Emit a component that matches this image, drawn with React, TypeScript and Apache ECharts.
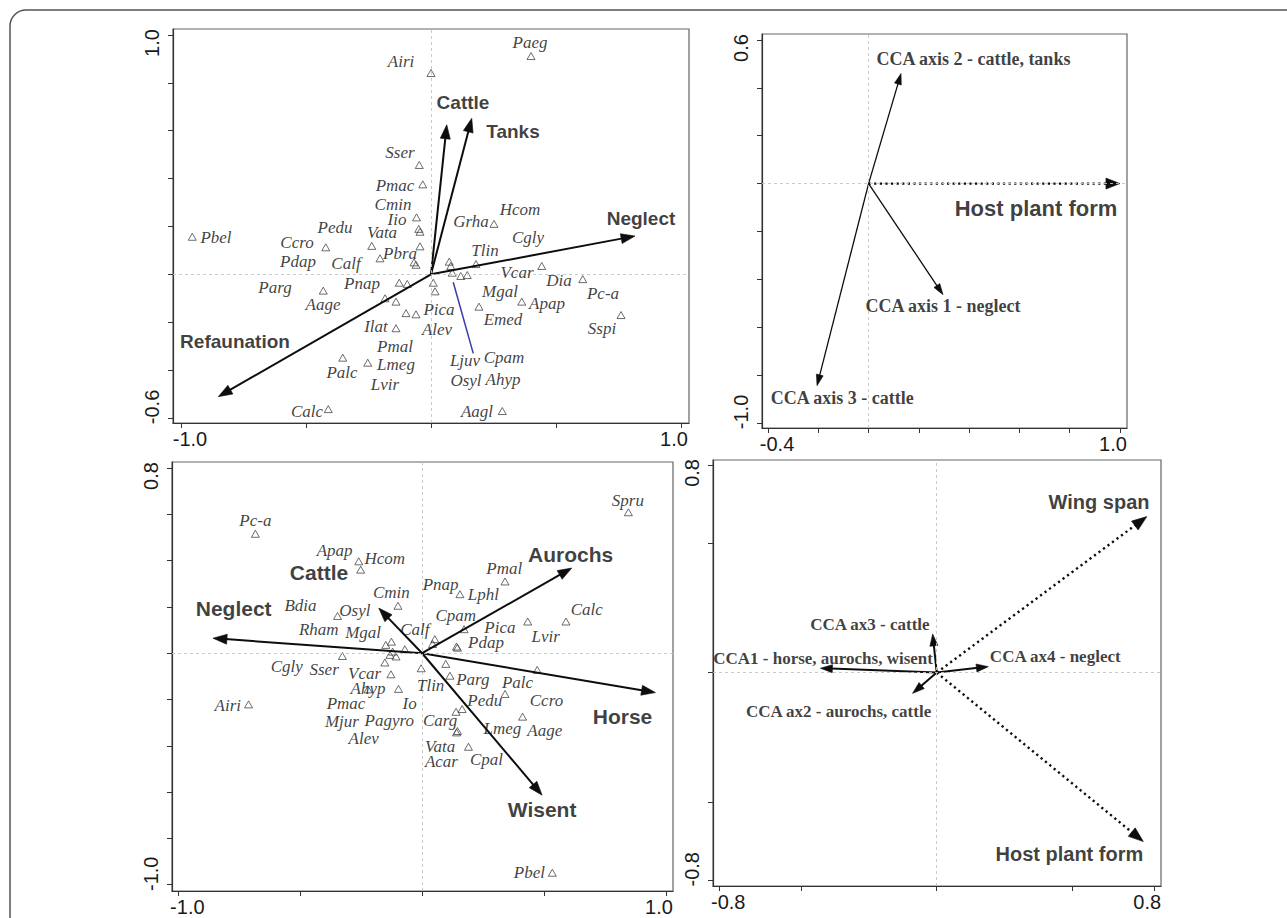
import React, { useEffect, useRef } from 'react';
import * as echarts from 'echarts';

type P = [number, number];
type L = [string, number, number];
type V = [number, number, number]; // x, y, dotted(1) / solid(0)

// ---------------- Panel 1 (top-left) ----------------
const p1Points: P[] = [
  [0.0, 0.841], [0.4, 0.912], [-0.047, 0.457], [-0.033, 0.376], [-0.058, 0.238],
  [-0.049, 0.19], [-0.044, 0.178], [-0.044, 0.117], [-0.068, 0.05], [-0.06, 0.04],
  [0.252, 0.211], [-0.955, 0.157], [-0.421, 0.113], [-0.237, 0.119], [-0.204, 0.067],
  [-0.431, -0.068], [-0.127, -0.035], [-0.095, -0.04], [-0.184, -0.1], [-0.14, -0.114],
  [-0.1, -0.162], [-0.06, -0.167], [-0.14, -0.225], [-0.353, -0.348], [-0.253, -0.369],
  [-0.411, -0.563], [0.009, -0.035], [0.016, -0.071], [0.073, 0.053], [0.079, 0.035],
  [0.085, 0.007], [0.119, -0.007], [0.145, -0.003], [0.18, 0.043], [0.443, 0.035],
  [0.607, -0.02], [0.76, -0.17], [0.192, -0.135], [0.363, -0.114], [0.285, -0.571],
];
const p1Species: L[] = [
  ['Airi', -0.12, 0.891], ['Paeg', 0.396, 0.967], ['Sser', -0.124, 0.507], ['Pmac', -0.144, 0.371],
  ['Cmin', -0.152, 0.29], ['Iio', -0.136, 0.231], ['Pedu', -0.384, 0.194], ['Vata', -0.196, 0.173],
  ['Pbel', -0.86, 0.154], ['Ccro', -0.536, 0.135], ['Pdap', -0.532, 0.052], ['Calf', -0.34, 0.046],
  ['Pbra', -0.124, 0.089], ['Hcom', 0.356, 0.269], ['Grha', 0.16, 0.219], ['Cgly', 0.388, 0.154],
  ['Tlin', 0.216, 0.1], ['Vcar', 0.344, 0.008], ['Dia', 0.512, -0.025], ['Pc-a', 0.688, -0.082],
  ['Sspi', 0.684, -0.228], ['Parg', -0.624, -0.053], ['Aage', -0.432, -0.128], ['Pnap', -0.276, -0.04],
  ['Pica', 0.032, -0.145], ['Alev', 0.024, -0.232], ['Ilat', -0.22, -0.218], ['Pmal', -0.144, -0.301],
  ['Lmeg', -0.14, -0.378], ['Palc', -0.356, -0.412], ['Lvir', -0.184, -0.462], ['Calc', -0.496, -0.571],
  ['Mgal', 0.276, -0.071], ['Apap', 0.464, -0.122], ['Emed', 0.288, -0.19], ['Ljuv', 0.136, -0.358],
  ['Cpam', 0.292, -0.347], ['Osyl', 0.14, -0.445], ['Ahyp', 0.288, -0.441], ['Aagl', 0.184, -0.573],
];
const p1Vectors: V[] = [[0.063, 0.625, 0], [0.163, 0.652, 0], [0.816, 0.16, 0], [-0.851, -0.511, 0]];
const p1VectorLabels: L[] = [
  ['Cattle', 0.128, 0.716], ['Tanks', 0.328, 0.597], ['Neglect', 0.84, 0.232], ['Refaunation', -0.784, -0.28],
];
const p1Link: P[] = [[0.089, -0.033], [0.169, -0.33]];
const p1XTicks = [-1, -0.5, 0, 0.5, 1];
const p1YTicks = [-0.6, -0.4, -0.2, 0, 0.2, 0.4, 0.6, 0.8, 1.0];
const p1XLabels = [-1, 1];
const p1YLabels = [-0.6, 1.0];

// ---------------- Panel 2 (top-right) ----------------
const p2Vectors: V[] = [[0.129, 0.46, 0], [0.296, -0.464, 0], [-0.205, -0.844, 0], [1.0, 0.0, 1]];
const p2AxisLabels: L[] = [
  ['CCA axis 2 - cattle, tanks', 0.417, 0.52],
  ['CCA axis 1 - neglect', 0.296, -0.511],
  ['CCA axis 3 - cattle', -0.105, -0.896],
];
const p2TraitLabels: L[] = [['Host plant form', 0.666, -0.102]];
const p2XTicks = [-0.4, -0.2, 0, 0.2, 0.4, 0.6, 0.8, 1.0];
const p2YTicks = [-1.0, -0.8, -0.6, -0.4, -0.2, 0, 0.2, 0.4, 0.6];
const p2XLabels = [-0.4, 1.0];
const p2YLabels = [-1.0, 0.6];

// ---------------- Panel 3 (bottom-left) ----------------
const p3Points: P[] = [
  [-0.684, 0.516], [-0.26, 0.397], [-0.252, 0.361], [-0.099, 0.205], [-0.347, 0.161],
  [-0.149, 0.036], [-0.126, 0.05], [-0.071, 0.017], [-0.327, -0.012], [-0.132, -0.007],
  [-0.107, -0.014], [-0.121, 0.007], [-0.153, -0.04], [0.052, 0.061], [0.043, 0.04],
  [0.846, 0.609], [0.34, 0.31], [0.155, 0.255], [0.59, 0.137], [0.433, 0.137],
  [0.172, 0.104], [0.141, 0.029], [0.145, 0.024], [-0.128, -0.091], [-0.097, -0.154],
  [-0.004, -0.065], [0.097, -0.046], [0.114, -0.097], [0.472, -0.072], [0.34, -0.176],
  [0.164, -0.241], [0.139, -0.253], [0.141, -0.342], [0.145, -0.336], [0.19, -0.404],
  [0.412, -0.274], [-0.712, -0.221], [0.534, -0.948], [-0.222, -0.156],
];
const p3Species: L[] = [
  ['Pc-a', -0.684, 0.573], ['Apap', -0.359, 0.443], ['Hcom', -0.153, 0.411], ['Cmin', -0.126, 0.264],
  ['Bdia', -0.499, 0.205], ['Osyl', -0.276, 0.184], ['Rham', -0.424, 0.101], ['Mgal', -0.242, 0.089],
  ['Calf', -0.03, 0.101], ['Spru', 0.844, 0.659], ['Pmal', 0.337, 0.364], ['Pnap', 0.076, 0.296],
  ['Lphl', 0.251, 0.252], ['Calc', 0.675, 0.187], ['Lvir', 0.507, 0.072], ['Cpam', 0.138, 0.161],
  ['Pica', 0.319, 0.113], ['Pdap', 0.262, 0.048], ['Cgly', -0.555, -0.058], ['Sser', -0.402, -0.072],
  ['Vcar', -0.236, -0.087], ['Ahyp', -0.222, -0.152], ['Tlin', 0.035, -0.141], ['Parg', 0.208, -0.113],
  ['Palc', 0.391, -0.127], ['Airi', -0.797, -0.224], ['Pmac', -0.312, -0.216], ['Io', -0.051, -0.216],
  ['Pedu', 0.257, -0.206], ['Ccro', 0.51, -0.206], ['Mjur', -0.329, -0.296], ['Pagyro', -0.135, -0.289],
  ['Carg', 0.074, -0.289], ['Lmeg', 0.329, -0.325], ['Aage', 0.503, -0.332], ['Alev', -0.24, -0.368],
  ['Vata', 0.074, -0.401], ['Acar', 0.079, -0.469], ['Cpal', 0.264, -0.459], ['Pbel', 0.44, -0.949],
];
const p3Vectors: V[] = [
  [-0.858, 0.065, 0], [-0.178, 0.195, 0], [0.614, 0.368, 0], [0.957, -0.17, 0], [0.492, -0.613, 0],
];
const p3VectorLabels: L[] = [
  ['Neglect', -0.773, 0.195], ['Cattle', -0.423, 0.349], ['Aurochs', 0.609, 0.426],
  ['Horse', 0.822, -0.274], ['Wisent', 0.492, -0.675],
];
const p3XTicks = [-1, -0.5, 0, 0.5, 1];
const p3YTicks = [-1.0, -0.8, -0.6, -0.4, -0.2, 0, 0.2, 0.4, 0.6, 0.8];
const p3XLabels = [-1, 1];
const p3YLabels = [-1.0, 0.8];

// ---------------- Panel 4 (bottom-right) ----------------
const p4Vectors: V[] = [
  [0.773, 0.601, 1], [0.76, -0.651, 1], [-0.428, 0.017, 0], [-0.015, 0.149, 0], [0.19, 0.023, 0], [-0.089, -0.08, 0],
];
const p4AxisLabels: L[] = [
  ['CCA ax3 - cattle', -0.246, 0.187],
  ['CCA1 - horse, aurochs, wisent', -0.418, 0.056],
  ['CCA ax4 - neglect', 0.436, 0.062],
  ['CCA ax2 - aurochs, cattle', -0.361, -0.15],
];
const p4TraitLabels: L[] = [['Wing span', 0.597, 0.659], ['Host plant form', 0.488, -0.7]];
const p4XTicks = [-0.8, -0.5, 0, 0.5, 0.8];
const p4YTicks = [-0.8, -0.5, 0, 0.5, 0.8];
const p4XLabels = [-0.8, 0.8];
const p4YLabels = [-0.8, 0.8];

// ---------------- layout ----------------
const SERIF = "'Liberation Serif', 'Times New Roman', serif";
const SANS = "'Liberation Sans', Arial, Helvetica, sans-serif";

const grids = [
  { left: 173, top: 29, width: 516, height: 394 },
  { left: 762, top: 34, width: 365, height: 394 },
  { left: 172, top: 462, width: 501, height: 429 },
  { left: 713, top: 460, width: 448, height: 426 },
];
const ranges = [
  { x: [-1.032, 1.032], y: [-0.621, 1.025] },
  { x: [-0.424, 1.028], y: [-1.021, 0.625] },
  { x: [-1.026, 1.029], y: [-1.027, 0.826] },
  { x: [-0.823, 0.825], y: [-0.822, 0.819] },
];

const tickFont = { fontFamily: SANS, fontSize: 20, color: '#1a1a1a' };
const fmtRich = (v: number) => (v < 0 ? `{a|${v.toFixed(1)}}` : `{b|${v.toFixed(1)}}`);

function xAxisCfg(i: number, ticks: number[], labels: number[]) {
  return {
    type: 'value', gridIndex: i, min: ranges[i].x[0], max: ranges[i].x[1],
    axisLine: { show: true, onZero: false, lineStyle: { color: '#333', width: 1.2 } },
    axisTick: { show: true, customValues: ticks, length: 5, inside: false, lineStyle: { color: '#333', width: 1 } },
    axisLabel: {
      show: true, customValues: labels, margin: 6, formatter: fmtRich, ...tickFont,
      rich: { a: { ...tickFont, padding: [0, 0, 0, 18] }, b: { ...tickFont, padding: [0, 14, 0, 0] } },
    },
    splitLine: { show: false },
  };
}
function yAxisCfg(i: number, ticks: number[], labels: number[]) {
  return {
    type: 'value', gridIndex: i, min: ranges[i].y[0], max: ranges[i].y[1],
    axisLine: { show: true, onZero: false, lineStyle: { color: '#333', width: 1.2 } },
    axisTick: { show: true, customValues: ticks, length: 5, inside: false, lineStyle: { color: '#333', width: 1 } },
    axisLabel: {
      show: true, customValues: labels, margin: 11, rotate: 90, formatter: fmtRich, ...tickFont,
      rich: { a: { ...tickFont, padding: [0, 0, 0, 22] }, b: { ...tickFont, padding: [0, 16, 0, 0] } },
    },
    splitLine: { show: false },
  };
}

type ArrowStyle = { w: number; hl: number; hw: number; dw: number; dhl: number; dhw: number };

function arrowSeries(i: number, vecs: V[], st: ArrowStyle) {
  return {
    type: 'custom', xAxisIndex: i, yAxisIndex: i, clip: false, silent: true, z: 4,
    dimensions: ['x', 'y', 'dotted'], encode: { x: 0, y: 1 },
    data: vecs,
    renderItem: (_p: any, api: any) => {
      const x = api.value(0), y = api.value(1);
      const dotted = api.value(2) === 1;
      const o = api.coord([0, 0]);
      const t = api.coord([x, y]);
      const dx = t[0] - o[0], dy = t[1] - o[1];
      const len = Math.hypot(dx, dy) || 1;
      const ux = dx / len, uy = dy / len;
      const hl = dotted ? st.dhl : st.hl;
      const hw = dotted ? st.dhw : st.hw;
      const w = dotted ? st.dw : st.w;
      const bx = t[0] - ux * hl, by = t[1] - uy * hl;
      return {
        type: 'group',
        children: [
          {
            type: 'line',
            shape: { x1: o[0], y1: o[1], x2: bx + ux * 1.5, y2: by + uy * 1.5 },
            style: { stroke: '#0d0d0d', lineWidth: w, lineDash: dotted ? [2.2, 3.4] : null, fill: null },
          },
          {
            type: 'polygon',
            shape: { points: [[t[0], t[1]], [bx - uy * hw, by + ux * hw], [bx + uy * hw, by - ux * hw]] },
            style: { fill: '#0d0d0d', stroke: '#0d0d0d', lineWidth: 0.6 },
          },
        ],
      };
    },
  };
}

function labelSeries(i: number, items: L[], font: any, withZero = false) {
  const s: any = {
    type: 'scatter', xAxisIndex: i, yAxisIndex: i, symbol: 'circle', symbolSize: 0.1, silent: true, z: 6,
    itemStyle: { color: 'transparent' }, emphasis: { disabled: true },
    data: items.map(([n, x, y]) => ({ name: n, value: [x, y] })),
    label: { show: true, position: 'inside', formatter: (p: any) => p.name, color: '#0d0d0d', ...font },
  };
  if (withZero) s.markLine = zeroLines();
  return s;
}

function zeroLines() {
  return {
    silent: true, symbol: ['none', 'none'], label: { show: false }, animation: false,
    lineStyle: { color: '#c4c4c4', type: [3, 3], width: 0.9 },
    emphasis: { disabled: true },
    data: [{ xAxis: 0 }, { yAxis: 0 }],
  };
}

function pointSeries(i: number, pts: P[]) {
  return {
    type: 'scatter', xAxisIndex: i, yAxisIndex: i, symbol: 'triangle', symbolSize: [8, 7], silent: true, z: 3,
    itemStyle: { color: 'transparent', borderColor: '#333', borderWidth: 0.9 }, emphasis: { disabled: true },
    data: pts,
    markLine: zeroLines(),
  };
}

const speciesFont = { fontFamily: SERIF, fontStyle: 'italic', fontSize: 17 };

function buildOption() {
  return {
    animation: false,
    backgroundColor: '#fff',
    grid: grids.map((g) => ({
      ...g, show: true, borderColor: '#666', borderWidth: 1.2, backgroundColor: 'transparent',
      containLabel: false, outerBoundsMode: 'none',
    })),
    xAxis: [
      xAxisCfg(0, p1XTicks, p1XLabels), xAxisCfg(1, p2XTicks, p2XLabels),
      xAxisCfg(2, p3XTicks, p3XLabels), xAxisCfg(3, p4XTicks, p4XLabels),
    ],
    yAxis: [
      yAxisCfg(0, p1YTicks, p1YLabels), yAxisCfg(1, p2YTicks, p2YLabels),
      yAxisCfg(2, p3YTicks, p3YLabels), yAxisCfg(3, p4YTicks, p4YLabels),
    ],
    graphic: [
      {
        type: 'rect', silent: true, z: -10,
        shape: { x: 10, y: 10, width: 1400, height: 1100, r: 16 },
        style: { fill: 'none', stroke: '#555', lineWidth: 1.5 },
      },
    ],
    series: [
      // panel 1
      pointSeries(0, p1Points),
      labelSeries(0, p1Species, speciesFont),
      {
        type: 'line', xAxisIndex: 0, yAxisIndex: 0, data: p1Link, symbol: 'none', silent: true, z: 4,
        lineStyle: { color: '#3a3aa8', width: 1.5 },
      },
      arrowSeries(0, p1Vectors, { w: 2, hl: 14, hw: 5, dw: 2.4, dhl: 14, dhw: 5.5 }),
      labelSeries(0, p1VectorLabels, { fontFamily: SANS, fontWeight: 'bold', fontSize: 19 }),
      // panel 2
      arrowSeries(1, p2Vectors, { w: 1.3, hl: 11, hw: 3.5, dw: 2.4, dhl: 14, dhw: 5.5 }),
      labelSeries(1, p2AxisLabels, { fontFamily: SERIF, fontWeight: 'bold', fontSize: 18 }, true),
      labelSeries(1, p2TraitLabels, { fontFamily: SANS, fontWeight: 'bold', fontSize: 22 }),
      // panel 3
      pointSeries(2, p3Points),
      labelSeries(2, p3Species, speciesFont),
      arrowSeries(2, p3Vectors, { w: 2, hl: 14, hw: 5, dw: 2.4, dhl: 14, dhw: 5.5 }),
      labelSeries(2, p3VectorLabels, { fontFamily: SANS, fontWeight: 'bold', fontSize: 21 }),
      // panel 4
      arrowSeries(3, p4Vectors, { w: 2, hl: 12, hw: 4, dw: 2.4, dhl: 15, dhw: 5.5 }),
      labelSeries(3, p4AxisLabels, { fontFamily: SERIF, fontWeight: 'bold', fontSize: 17 }, true),
      labelSeries(3, p4TraitLabels, { fontFamily: SANS, fontWeight: 'bold', fontSize: 20 }),
    ],
  };
}

export default function App() {
  const ref = useRef<HTMLDivElement>(null);
  useEffect(() => {
    document.body.style.margin = '0';
    if (!ref.current) return;
    const chart = echarts.init(ref.current, null, { renderer: 'svg' });
    chart.setOption(buildOption() as any);
    return () => chart.dispose();
  }, []);
  return <div ref={ref} style={{ width: 1287, height: 918 }} />;
}
